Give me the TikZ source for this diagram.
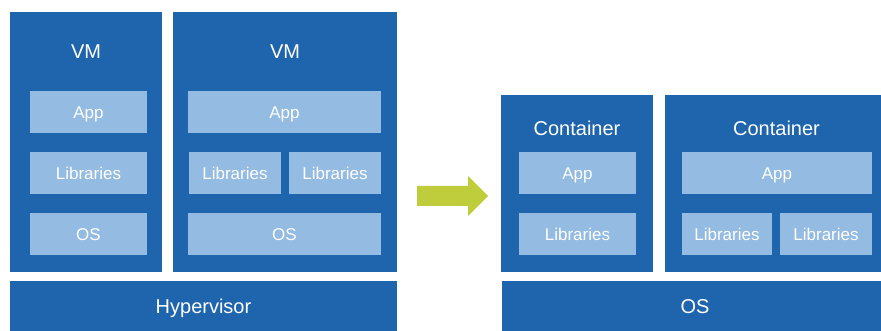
\documentclass[tikz,border=0pt]{standalone}
\usepackage{fontspec}
\setmainfont{Liberation Sans}
\usepackage{tikz}
\usetikzlibrary{positioning}

\definecolor{boxblue}{RGB}{31,101,173}
\definecolor{layerblue}{RGB}{148,187,225}
\definecolor{shiftgreen}{RGB}{191,204,60}

\begin{document}
\begin{tikzpicture}[x=1pt, y=-1pt,
            host/.style={rectangle, fill=boxblue, inner sep=0pt},
            layer/.style={rectangle, fill=layerblue, inner sep=0pt,
                          minimum height=42pt, text=white,
                          text height=12.2pt, text depth=0pt,
                          font=\fontsize{17}{20}\selectfont},
            title/.style={text=white, text height=14.3pt, text depth=0pt,
                          font=\fontsize{20}{24}\selectfont}
        ]
            \useasboundingbox (0,0) rectangle (881,331);

            % virtual machines
            \node[host, minimum width=152pt, minimum height=260pt] (vmA) at (86,142) {};
            \node[host, minimum width=224pt, minimum height=260pt] (vmB) at (285,142) {};
            \node[host, minimum width=387pt, minimum height=50pt, title] (hyper) at (203.5,306) {Hypervisor};

            \node[title] (vmAname) at (86,51) {VM};
            \node[title] (vmBname) at (285,51) {VM};

            \node[layer, minimum width=117pt] (vmAapp) at (88.5,112.5) {App};
            \node[layer, minimum width=117pt] (vmAlib) at (88.5,173.5) {Libraries};
            \node[layer, minimum width=117pt] (vmAos) at (88.5,234.5) {OS};

            \node[layer, minimum width=193pt] (vmBapp) at (284.5,112.5) {App};
            \node[layer, minimum width=92pt] (vmBlibA) at (235,173.5) {Libraries};
            \node[layer, minimum width=92pt] (vmBlibB) at (335,173.5) {Libraries};
            \node[layer, minimum width=193pt] (vmBos) at (284.5,234.5) {OS};

            % the move
            \fill[shiftgreen] (417,186) -- (468,186) -- (468,176) -- (488,196)
                -- (468,216) -- (468,206) -- (417,206) -- cycle;

            % containers
            \node[host, minimum width=152pt, minimum height=177pt] (ctA) at (577,183.5) {};
            \node[host, minimum width=223pt, minimum height=177pt] (ctB) at (776.5,183.5) {};
            \node[host, minimum width=387pt, minimum height=50pt, title] (hostos) at (695,306) {OS};

            \node[title] (ctAname) at (577,128) {Container};
            \node[title] (ctBname) at (776.5,128) {Container};

            \node[layer, minimum width=117pt] (ctAapp) at (577.5,173.5) {App};
            \node[layer, minimum width=117pt] (ctAlib) at (577.5,234.5) {Libraries};

            \node[layer, minimum width=190pt] (ctBapp) at (777,173.5) {App};
            \node[layer, minimum width=90pt] (ctBlibA) at (727,234.5) {Libraries};
            \node[layer, minimum width=92pt] (ctBlibB) at (826,234.5) {Libraries};
        \end{tikzpicture}
\end{document}
